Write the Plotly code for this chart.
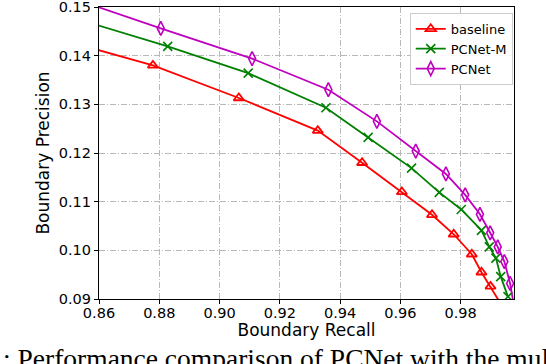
import plotly.graph_objects as go

# values (first/last entries lie outside the visible range)
baseline_x = [0.845, 0.8779, 0.9064, 0.9326, 0.9473, 0.9605, 0.9705, 0.9777, 0.9837, 0.9869, 0.9899, 0.9948]
baseline_y = [0.1437, 0.1380, 0.1313, 0.1246, 0.1180, 0.1120, 0.1073, 0.1033, 0.0992, 0.0955, 0.0926, 0.0875]

pcnet_m_x = [0.845, 0.8828, 0.9095, 0.9353, 0.9493, 0.9637, 0.9729, 0.9802, 0.9869, 0.9895, 0.9917, 0.9933, 0.9957]
pcnet_m_y = [0.1490, 0.1419, 0.1364, 0.1293, 0.1232, 0.1169, 0.1119, 0.1084, 0.1041, 0.1007, 0.0984, 0.0946, 0.0905]

pcnet_x = [0.845, 0.8805, 0.9108, 0.9361, 0.9522, 0.9651, 0.9751, 0.9815, 0.9864, 0.9898, 0.9923, 0.9945, 0.9964, 0.9980]
pcnet_y = [0.1531, 0.1456, 0.1394, 0.1330, 0.1265, 0.1204, 0.1157, 0.1114, 0.1074, 0.1036, 0.1007, 0.0977, 0.0932, 0.0875]

font = "DejaVu Sans"

fig = go.Figure()
fig.add_trace(go.Scatter(x=baseline_x, y=baseline_y, name="baseline", mode="lines+markers",
                         line=dict(color="#ff0000", width=1.8),
                         marker=dict(symbol="triangle-up-open", size=9, color="#ff0000", line=dict(width=1.8))))
fig.add_trace(go.Scatter(x=pcnet_m_x, y=pcnet_m_y, name="PCNet-M", mode="lines+markers",
                         line=dict(color="#008000", width=1.8),
                         marker=dict(symbol="x-thin-open", size=9, color="#008000", line=dict(width=1.6))))
fig.add_trace(go.Scatter(x=pcnet_x, y=pcnet_y, name="PCNet", mode="lines+markers",
                         line=dict(color="#bf00bf", width=1.8),
                         marker=dict(symbol="diamond-tall-open", size=10, color="#bf00bf", line=dict(width=1.6))))

axis_common = dict(showline=True, linecolor="black", linewidth=1.2, mirror=True,
                   ticks="outside", ticklen=4, tickwidth=1, tickcolor="black",
                   showgrid=True, gridcolor="#b8b8b8", gridwidth=0.8, griddash="6px,2px,1px,2px",
                   zeroline=False, tickfont=dict(family=font, size=14.5, color="black"),
                   tickformat=".2f", ticklabeloverflow="allow")

fig.update_xaxes(range=[0.86, 0.9977], dtick=0.02, tick0=0.86, ticklabelstandoff=-4,
                 title=dict(text="Boundary Recall", font=dict(family=font, size=17, color="black"), standoff=0),
                 **axis_common)
fig.update_yaxes(range=[0.09, 0.15], dtick=0.01, tick0=0.09,
                 title=dict(text="Boundary Precision", font=dict(family=font, size=17, color="black"), standoff=4),
                 **axis_common)

fig.add_annotation(text=": Performance comparison of PCNet with the multi-scale",
                   xref="paper", yref="paper", x=-0.236, y=-0.205, xanchor="left", yanchor="middle",
                   showarrow=False, font=dict(family="Liberation Serif", size=27.5, color="black"))

fig.update_layout(width=546, height=364, margin=dict(l=99, r=32, t=7, b=65, autoexpand=False),
                  plot_bgcolor="white", paper_bgcolor="white",
                  font=dict(family=font, color="black"),
                  legend=dict(x=0.997, y=0.98, xanchor="right", yanchor="top",
                              bgcolor="rgba(255,255,255,0.9)", bordercolor="#cccccc", borderwidth=1,
                              font=dict(family=font, size=13, color="black"),
                              itemwidth=30, tracegroupgap=0))

# drop the browser's default page margin so the figure sits at the window origin
fig.write_html("out.html", config={"displayModeBar": False},
               post_script="document.body.style.margin='0';")
